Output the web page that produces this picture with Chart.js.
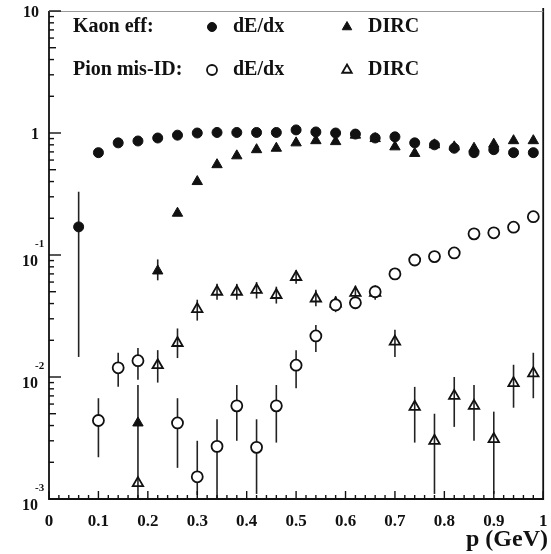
<!DOCTYPE html>
<html>
<head>
<meta charset="utf-8">
<script src="https://cdn.jsdelivr.net/npm/chart.js@4.4.0/dist/chart.umd.min.js"></script>
<style>
  html, body { margin: 0; padding: 0; background: #fff; }
  #plot { display: block; }
</style>
</head>
<body>
<canvas id="plot" width="551" height="554"></canvas>
<script>
// momentum bins (GeV)
const momentum = [0.06, 0.10, 0.14, 0.18, 0.22, 0.26, 0.30, 0.34, 0.38, 0.42, 0.46, 0.50,
                  0.54, 0.58, 0.62, 0.66, 0.70, 0.74, 0.78, 0.82, 0.86, 0.90, 0.94, 0.98];

// Kaon efficiency, dE/dx
const kaonDedx   = [0.17, 0.69, 0.83, 0.86, 0.91, 0.96, 1.0, 1.01, 1.01, 1.01, 1.01, 1.06,
                    1.02, 1.0, 0.98, 0.91, 0.93, 0.83, 0.80, 0.75, 0.69, 0.73, 0.69, 0.69];
const kaonDedxLo = [0.0146, null, null, null, null, null, null, null, null, null, null, null,
                    null, null, null, null, null, null, null, null, null, null, null, null];
const kaonDedxHi = [0.33, null, null, null, null, null, null, null, null, null, null, null,
                    null, null, null, null, null, null, null, null, null, null, null, null];

// Kaon efficiency, DIRC
const kaonDirc   = [null, null, null, 0.0042, 0.074, 0.22, 0.40, 0.55, 0.65, 0.73, 0.75, 0.83,
                    0.865, 0.85, 0.96, 0.90, 0.77, 0.68, 0.80, 0.77, 0.75, 0.81, 0.865, 0.865];
const kaonDircLo = [null, null, null, 0.001, 0.062, null, null, null, null, null, null, null,
                    null, null, null, null, null, null, null, null, null, null, null, null];
const kaonDircHi = [null, null, null, 0.0086, 0.092, null, null, null, null, null, null, null,
                    null, null, null, null, null, null, null, null, null, null, null, null];

// Pion mis-ID, dE/dx
const pionDedx   = [null, 0.0044, 0.0119, 0.0136, null, 0.0042, 0.00152, 0.0027, 0.0058, 0.00265, 0.0058, 0.0125,
                    0.0217, 0.039, 0.0406, 0.05, 0.07, 0.091, 0.097, 0.104, 0.149, 0.152, 0.169, 0.206];
const pionDedxLo = [null, 0.0022, 0.0083, 0.0095, null, 0.0018, 0.00108, 0.001, 0.003, 0.0011, 0.0029, 0.0081,
                    0.016, 0.034, 0.036, null, null, null, null, null, null, null, null, null];
const pionDedxHi = [null, 0.0067, 0.0158, 0.0173, null, 0.0067, 0.003, 0.0045, 0.0086, 0.0045, 0.0086, 0.0166,
                    0.0267, 0.045, 0.046, null, null, null, null, null, null, null, null, null];

// Pion mis-ID, DIRC
const pionDirc   = [null, null, null, 0.00135, 0.0125, 0.019, 0.036, 0.05, 0.05, 0.0517, 0.047, 0.066,
                    0.044, 0.040, 0.049, 0.049, 0.0195, 0.0057, 0.003, 0.007, 0.0058, 0.0031, 0.0089, 0.0107];
const pionDircLo = [null, null, null, null, 0.009, 0.0143, 0.029, 0.043, 0.043, 0.044, 0.040, 0.058,
                    0.038, 0.035, 0.043, 0.043, 0.0146, 0.0029, 0.0011, 0.0039, 0.003, 0.0011, 0.0056, 0.0067];
const pionDircHi = [null, null, null, null, 0.0166, 0.025, 0.043, 0.058, 0.058, 0.06, 0.055, 0.075,
                    0.052, 0.046, 0.056, 0.056, 0.0244, 0.0083, 0.005, 0.010, 0.0086, 0.0052, 0.0126, 0.0158];

// axis ticks
const xTickValues = [0, 0.1, 0.2, 0.3, 0.4, 0.5, 0.6, 0.7, 0.8, 0.9, 1];
const xTickLabels = ['0', '0.1', '0.2', '0.3', '0.4', '0.5', '0.6', '0.7', '0.8', '0.9', '1'];
const yTickValues = [10, 1, 0.1, 0.01, 0.001];
const yTickBase   = ['10', '1', '10', '10', '10'];
const yTickExp    = ['', '', '-1', '-2', '-3'];

const INK = '#111';
const SERIF = '"Liberation Serif", "DejaVu Serif", serif';

function points(values, lo, hi) {
  return momentum
    .map((x, i) => values[i] == null ? null : { x: x, y: values[i], lo: lo[i], hi: hi[i] })
    .filter(p => p);
}

const errorBars = {
  id: 'errorBars',
  beforeDatasetsDraw(chart) {
    const ctx = chart.ctx;
    const xs = chart.scales.x, ys = chart.scales.y;
    const area = chart.chartArea;
    ctx.save();
    ctx.strokeStyle = '#222';
    ctx.lineWidth = 1.6;
    chart.data.datasets.forEach(ds => {
      ds.data.forEach(p => {
        if (p.lo == null || p.hi == null) return;
        const px = xs.getPixelForValue(p.x);
        const y1 = Math.min(area.bottom, ys.getPixelForValue(p.lo));
        const y2 = Math.max(area.top, ys.getPixelForValue(p.hi));
        ctx.beginPath();
        ctx.moveTo(px, y1);
        ctx.lineTo(px, y2);
        ctx.stroke();
      });
    });
    ctx.restore();
  }
};

const frameAndText = {
  id: 'frameAndText',
  afterDraw(chart) {
    const ctx = chart.ctx;
    const xs = chart.scales.x, ys = chart.scales.y;
    const a = chart.chartArea;
    ctx.save();

    // frame
    ctx.strokeStyle = INK;
    ctx.lineWidth = 1.8;
    ctx.beginPath();
    ctx.moveTo(a.left, a.top);
    ctx.lineTo(a.left, a.bottom);
    ctx.lineTo(a.right, a.bottom);
    ctx.lineTo(a.right, a.top - 3);
    ctx.stroke();
    ctx.strokeStyle = '#999';
    ctx.lineWidth = 1;
    ctx.beginPath();
    ctx.moveTo(a.left, a.top + 0.5);
    ctx.lineTo(a.right, a.top + 0.5);
    ctx.stroke();

    // y ticks (log decades + minors)
    ctx.strokeStyle = INK;
    ctx.lineWidth = 1.4;
    for (let e = -3; e <= 1; e++) {
      const major = Math.pow(10, e);
      const py = ys.getPixelForValue(major);
      ctx.beginPath();
      ctx.moveTo(a.left, py);
      ctx.lineTo(a.left + 12, py);
      ctx.stroke();
      if (e === 1) break;
      for (let m = 2; m <= 9; m++) {
        const my = ys.getPixelForValue(m * major);
        ctx.beginPath();
        ctx.moveTo(a.left, my);
        ctx.lineTo(a.left + (m === 5 ? 7 : 5), my);
        ctx.stroke();
      }
    }

    // x ticks
    for (let k = 0; k <= 50; k++) {
      const px = xs.getPixelForValue(k / 50);
      const len = k % 5 === 0 ? 8 : 4;
      ctx.beginPath();
      ctx.moveTo(px, a.bottom);
      ctx.lineTo(px, a.bottom - len);
      ctx.stroke();
    }

    // tick labels
    ctx.fillStyle = INK;
    ctx.textBaseline = 'middle';
    ctx.font = 'bold 17px ' + SERIF;
    ctx.textAlign = 'center';
    xTickValues.forEach((v, i) => {
      ctx.fillText(xTickLabels[i], xs.getPixelForValue(v), 522);
    });

    yTickValues.forEach((v, i) => {
      const py = ys.getPixelForValue(v);
      ctx.font = 'bold 16px ' + SERIF;
      ctx.textAlign = 'right';
      if (yTickExp[i]) {
        ctx.fillText(yTickBase[i], 38, py + 7);
        ctx.font = 'bold 11px ' + SERIF;
        ctx.textAlign = 'left';
        ctx.fillText(yTickExp[i], 35, py - 11);
      } else {
        ctx.fillText(yTickBase[i], 39, py + 2);
      }
    });

    // axis title
    ctx.font = 'bold 24px ' + SERIF;
    ctx.textAlign = 'right';
    ctx.fillText('p (GeV)', 548, 540);

    // legend
    const rows = [
      { title: 'Kaon eff:', y: 27, sets: [0, 1] },
      { title: 'Pion mis-ID:', y: 70, sets: [2, 3] }
    ];
    const markX = [212, 347];
    const textX = [233, 368];
    rows.forEach(row => {
      ctx.font = 'bold 20px ' + SERIF;
      ctx.textAlign = 'left';
      ctx.fillStyle = INK;
      ctx.fillText(row.title, 73, row.y);
      row.sets.forEach((di, k) => {
        const ds = chart.data.datasets[di];
        ctx.fillStyle = ds.backgroundColor;
        ctx.strokeStyle = ds.borderColor;
        ctx.lineWidth = ds.borderWidth;
        Chart.helpers.drawPoint(ctx, {
          pointStyle: ds.pointStyle, radius: ds.pointRadius - 0.5,
          borderWidth: ds.borderWidth, rotation: 0
        }, markX[k], row.y);
        ctx.fillStyle = INK;
        ctx.fillText(ds.shortLabel, textX[k], row.y);
      });
    });
    ctx.restore();
  }
};

new Chart(document.getElementById('plot'), {
  type: 'scatter',
  data: {
    datasets: [
      { label: 'Kaon eff: dE/dx', shortLabel: 'dE/dx', data: points(kaonDedx, kaonDedxLo, kaonDedxHi),
        pointStyle: 'circle', pointRadius: 5, backgroundColor: INK, borderColor: INK, borderWidth: 1 },
      { label: 'Kaon eff: DIRC', shortLabel: 'DIRC', data: points(kaonDirc, kaonDircLo, kaonDircHi),
        pointStyle: 'triangle', pointRadius: 6, backgroundColor: INK, borderColor: INK, borderWidth: 1 },
      { label: 'Pion mis-ID: dE/dx', shortLabel: 'dE/dx', data: points(pionDedx, pionDedxLo, pionDedxHi),
        pointStyle: 'circle', pointRadius: 5.5, backgroundColor: '#fff', borderColor: INK, borderWidth: 1.8 },
      { label: 'Pion mis-ID: DIRC', shortLabel: 'DIRC', data: points(pionDirc, pionDircLo, pionDircHi),
        pointStyle: 'triangle', pointRadius: 6, backgroundColor: 'rgba(255,255,255,0)', borderColor: INK, borderWidth: 1.8 }
    ]
  },
  options: {
    responsive: false,
    animation: false,
    devicePixelRatio: 1,
    layout: { padding: { left: 49, right: 3, top: 11, bottom: 55 } },
    plugins: { legend: { display: false }, tooltip: { enabled: false } },
    scales: {
      x: { type: 'linear', min: 0, max: 1, display: false },
      y: { type: 'logarithmic', min: 0.001, max: 10, display: false }
    }
  },
  plugins: [errorBars, frameAndText]
});
</script>
</body>
</html>
